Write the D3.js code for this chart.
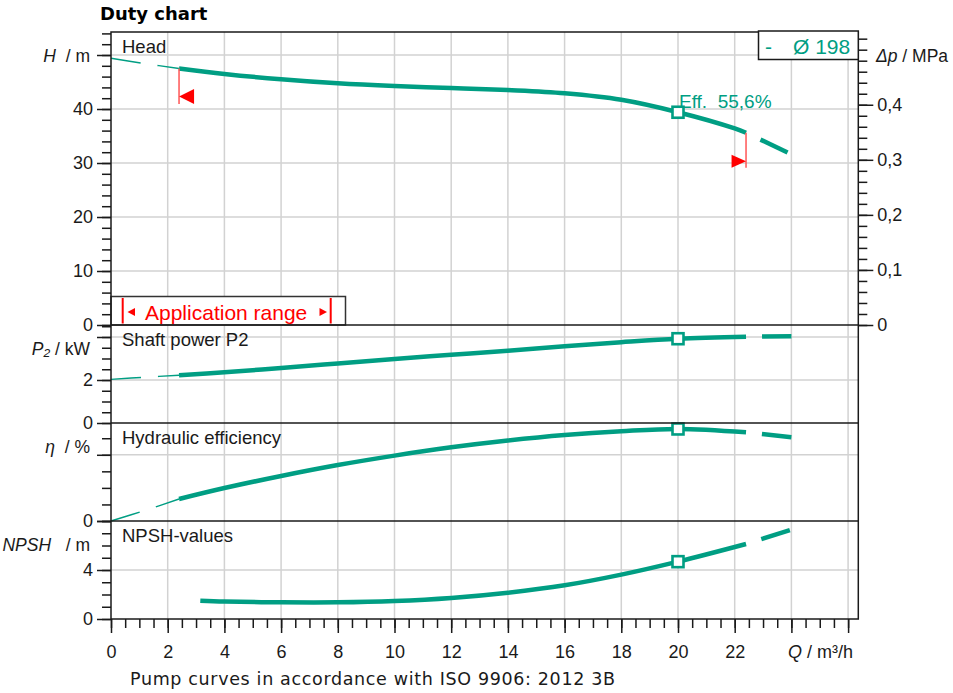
<!DOCTYPE html>
<html>
<head>
<meta charset="utf-8">
<script src="https://cdn.jsdelivr.net/npm/d3@7"></script>
<style>
  body { margin: 0; background: #fff; }
  svg text { font-family: "Liberation Sans", Arial, sans-serif; fill: #1a1a1a; }
</style>
</head>
<body>
<svg id="chart" width="953" height="693"></svg>
<script>
// curve values, Q in m³/h
const qHead = [0, 1.2, 2.4, 4, 6, 8, 10, 12, 14, 16, 18, 20, 22, 22.4, 24];
const head  = [49.4, 48.4, 47.5, 46.5, 45.5, 44.75, 44.25, 43.9, 43.5, 42.9, 41.7, 39.4, 36.4, 35.6, 31.6];

const qPower = [0, 1.2, 2.4, 4, 6, 8, 10, 12, 14, 16, 18, 20, 22.4, 24];
const power  = [2.03, 2.13, 2.22, 2.36, 2.56, 2.77, 2.98, 3.17, 3.36, 3.57, 3.76, 3.92, 4.01, 4.04];

const qEff = [0, 1.2, 2.4, 4, 6, 8, 10, 12, 14, 16, 18, 20, 22.4, 24];
const eff  = [0, 6.4, 13.3, 19.9, 27.2, 33.8, 39.5, 44.5, 48.6, 51.9, 54.2, 55.6, 53.6, 50.6];

const qNpsh = [3.15, 4, 6, 8, 10, 12, 14, 16, 18, 20, 22.4, 24];
const npsh  = [1.49, 1.42, 1.36, 1.36, 1.47, 1.72, 2.15, 2.75, 3.62, 4.68, 6.12, 7.3];

const qMin = 2.4, qMax = 22.4, qDuty = 20;
const xTickLabels = [0, 2, 4, 6, 8, 10, 12, 14, 16, 18, 20, 22];
const dpTicks = [0, 0.1, 0.2, 0.3, 0.4];
const mPerMPa = 101.97;

const teal = "#009e83";
const red = "#ff0000";
const ink = "#1a1a1a";

const left = 111, right = 858.3;
const svg = d3.select("#chart");

const x = d3.scaleLinear().domain([0, 26.36]).range([left, right]);

const panels = [
  { title: "Head", sym: "H", unit: "m", gap: "  ", top: 32, bottom: 325, max: 54.26,
    minor: d3.range(0, 54.1, 2), major: d3.range(0, 50.1, 10), labels: [0, 10, 20, 30, 40], grid: [10, 20, 30, 40, 50],
    qs: qHead, vs: head },
  { title: "Shaft power P2", sym: "P₂", unit: "kW", gap: " ", top: 325, bottom: 423, max: 4.558,
    minor: d3.range(0, 4.51, 0.5), major: [0, 2, 4], labels: [0, 2], grid: [2, 4],
    qs: qPower, vs: power },
  { title: "Hydraulic efficiency", sym: "η", unit: "%", gap: "  ", top: 423, bottom: 521, max: 59.2,
    minor: d3.range(0, 50.1, 10), major: [0, 40], labels: [0], grid: [40],
    qs: qEff, vs: eff },
  { title: "NPSH-values", sym: "NPSH", unit: "m", gap: "   ", top: 521, bottom: 619, max: 8,
    minor: d3.range(0, 8.1, 1), major: [0, 4, 8], labels: [0, 4], grid: [4],
    qs: qNpsh, vs: npsh }
];
panels.forEach(p => {
  p.y = d3.scaleLinear().domain([0, p.max]).range([p.bottom, p.top]);
});

// grid
const grid = svg.append("g").attr("stroke", "#d2d2d2").attr("stroke-width", 1.5);
grid.selectAll("line.v").data(d3.range(2, 26.1, 2)).join("line")
  .attr("x1", d => x(d)).attr("x2", d => x(d))
  .attr("y1", 32).attr("y2", 619);
panels.forEach(p => {
  grid.append("g").selectAll("line").data(p.grid).join("line")
    .attr("x1", left).attr("x2", right)
    .attr("y1", d => p.y(d)).attr("y2", d => p.y(d));
});

function styleAxis(g) {
  g.select(".domain").remove();
  g.selectAll("line").attr("stroke", ink).attr("stroke-width", 1.5);
  g.selectAll("text").attr("fill", ink);
  g.attr("font-size", 18).attr("font-family", "Liberation Sans, Arial, sans-serif");
}

// left axes
panels.forEach(p => {
  svg.append("g").attr("transform", `translate(${left},0)`)
    .call(d3.axisLeft(p.y).tickValues(p.minor).tickSize(9).tickFormat(""))
    .call(styleAxis);
  svg.append("g").attr("transform", `translate(${left},0)`)
    .call(d3.axisLeft(p.y).tickValues(p.major).tickSize(14).tickPadding(4)
      .tickFormat(v => p.labels.includes(v) ? v : ""))
    .call(styleAxis);

  const lab = svg.append("text")
    .attr("x", 90).attr("y", p.top + 23.5)
    .attr("text-anchor", "end").attr("dominant-baseline", "central")
    .attr("font-size", 17.5).style("white-space", "pre");
  lab.append("tspan").attr("font-style", "italic").text(p.sym);
  lab.append("tspan").text(p.gap + "/ " + p.unit);

  svg.append("text").attr("x", 122).attr("y", p.top + 21)
    .attr("font-size", 18.5).text(p.title);
});

// right axis (Δp)
const locale = d3.formatLocale({ decimal: ",", thousands: ".", grouping: [3], currency: ["", ""] });
const fmt1 = locale.format(".1f");
const yDp = d3.scaleLinear().domain([0, panels[0].max / mPerMPa]).range([325, 32]);
svg.append("g").attr("transform", `translate(${right},0)`)
  .call(d3.axisRight(yDp).tickValues(d3.range(0, 0.521, 0.02)).tickSize(9).tickFormat(""))
  .call(styleAxis);
svg.append("g").attr("transform", `translate(${right},0)`)
  .call(d3.axisRight(yDp).tickValues(dpTicks).tickSize(15).tickPadding(4)
    .tickFormat(v => v === 0 ? "0" : fmt1(v)))
  .call(styleAxis);
const dpLab = svg.append("text").attr("x", 876).attr("y", panels[0].top + 23.5)
  .attr("dominant-baseline", "central").attr("font-size", 17.5).style("white-space", "pre");
dpLab.append("tspan").attr("font-style", "italic").text("Δp");
dpLab.append("tspan").text(" / MPa");

// bottom axis
svg.append("g").attr("transform", "translate(0,619)")
  .call(d3.axisBottom(x).tickValues(d3.range(0, 26.4, 0.5)).tickSize(9).tickFormat(""))
  .call(styleAxis);
svg.append("g").attr("transform", "translate(0,619)")
  .call(d3.axisBottom(x).tickValues(d3.range(0, 26.1, 2)).tickSize(14).tickPadding(12)
    .tickFormat(v => xTickLabels.includes(v) ? v : ""))
  .call(styleAxis);
const qLab = svg.append("text").attr("x", 788).attr("y", 657.5)
  .attr("font-size", 18).style("white-space", "pre");
qLab.append("tspan").attr("font-style", "italic").text("Q");
qLab.append("tspan").text(" / m³/h");

// application range box
const appBox = svg.append("g");
appBox.append("rect").attr("x", left).attr("y", 296.5).attr("width", 234.5).attr("height", 28.5)
  .attr("fill", "#fff").attr("stroke", "#333").attr("stroke-width", 1.5);
appBox.selectAll("line").data([122.7, 330.7]).join("line")
  .attr("x1", d => d).attr("x2", d => d).attr("y1", 298).attr("y2", 323.5)
  .attr("stroke", red).attr("stroke-width", 2);
appBox.append("path").attr("d", "M127.5,312L135,308L135,316Z").attr("fill", red);
appBox.append("path").attr("d", "M327,312L319.5,308L319.5,316Z").attr("fill", red);
appBox.append("text").attr("x", 145).attr("y", 319.5).attr("font-size", 21)
  .style("fill", red).text("Application range");

// curves
const subset = (qs, vs, lo, hi) => qs.map((q, i) => [q, vs[i]]).filter(d => d[0] >= lo && d[0] <= hi);
panels.forEach(p => {
  const line = d3.line().x(d => x(d[0])).y(d => p.y(d[1])).curve(d3.curveCatmullRom.alpha(0.5));
  const low = subset(p.qs, p.vs, 0, qMin);
  if (low.length > 1) {
    svg.append("path").attr("d", line(low)).attr("fill", "none")
      .attr("stroke", teal).attr("stroke-width", 1.4).attr("stroke-dasharray", "30 17");
  }
  svg.append("path").attr("d", line(subset(p.qs, p.vs, qMin, qMax))).attr("fill", "none")
    .attr("stroke", teal).attr("stroke-width", 4.5).attr("stroke-linejoin", "round");
  svg.append("path").attr("d", line(subset(p.qs, p.vs, qMax, 30))).attr("fill", "none")
    .attr("stroke", teal).attr("stroke-width", 4.5)
    .attr("stroke-dasharray", "30 16").attr("stroke-dashoffset", 30);

  const vDuty = p.vs[p.qs.indexOf(qDuty)];
  svg.append("rect").attr("x", x(qDuty) - 5.5).attr("y", p.y(vDuty) - 5.5)
    .attr("width", 11).attr("height", 11)
    .attr("fill", "#fff").attr("stroke", teal).attr("stroke-width", 2.6);
});

// application range markers on head curve
const yH = panels[0].y;
const hMin = head[qHead.indexOf(qMin)], hMax = head[qHead.indexOf(qMax)];
const x0 = x(qMin), x1 = x(qMax);
const y0 = yH(hMin), y1 = yH(hMax);
svg.append("line").attr("x1", x0).attr("x2", x0).attr("y1", y0).attr("y2", y0 + 35.5)
  .attr("stroke", "#ff5555").attr("stroke-width", 1.5);
svg.append("path").attr("d", `M${x0},${y0 + 28}L${x0 + 15},${y0 + 20.5}L${x0 + 15},${y0 + 35.5}Z`).attr("fill", red);
svg.append("line").attr("x1", x1).attr("x2", x1).attr("y1", y1).attr("y2", y1 + 35)
  .attr("stroke", "#ff5555").attr("stroke-width", 1.5);
svg.append("path").attr("d", `M${x1},${y1 + 28.5}L${x1 - 14.5},${y1 + 22}L${x1 - 14.5},${y1 + 35}Z`).attr("fill", red);

// efficiency label at duty point
const effDuty = eff[qEff.indexOf(qDuty)];
svg.append("text").attr("x", x(qDuty) + 1).attr("y", 107.5).attr("font-size", 19)
  .style("fill", teal).style("white-space", "pre")
  .text("Eff.  " + locale.format(".1f")(effDuty) + "%");

// frame
const frame = svg.append("g").attr("stroke", ink).attr("stroke-width", 1.5).attr("fill", "none");
frame.append("rect").attr("x", left).attr("y", 32).attr("width", right - left).attr("height", 619 - 32);
frame.selectAll("line").data([325, 423, 521]).join("line")
  .attr("x1", left).attr("x2", right).attr("y1", d => d).attr("y2", d => d);

// legend
svg.append("rect").attr("x", 758.5).attr("y", 31).attr("width", right - 758.5).attr("height", 28.5)
  .attr("fill", "#fff").attr("stroke", ink).attr("stroke-width", 1.5);
svg.append("text").attr("x", 765).attr("y", 53.5).attr("font-size", 21).style("fill", teal).text("-");
svg.append("text").attr("x", 793).attr("y", 53.5).attr("font-size", 21).style("fill", teal).text("Ø 198");

// titles
svg.append("text").attr("x", 100).attr("y", 20).attr("font-size", 18).attr("font-weight", "bold")
  .style("font-family", "DejaVu Sans, Verdana, sans-serif").style("fill", "#000").text("Duty chart");
svg.append("text").attr("x", 130).attr("y", 685).attr("font-size", 17.5)
  .attr("textLength", 485).attr("lengthAdjust", "spacing")
  .style("font-family", "DejaVu Sans, Verdana, sans-serif").text("Pump curves in accordance with ISO 9906: 2012 3B");
</script>
</body>
</html>
